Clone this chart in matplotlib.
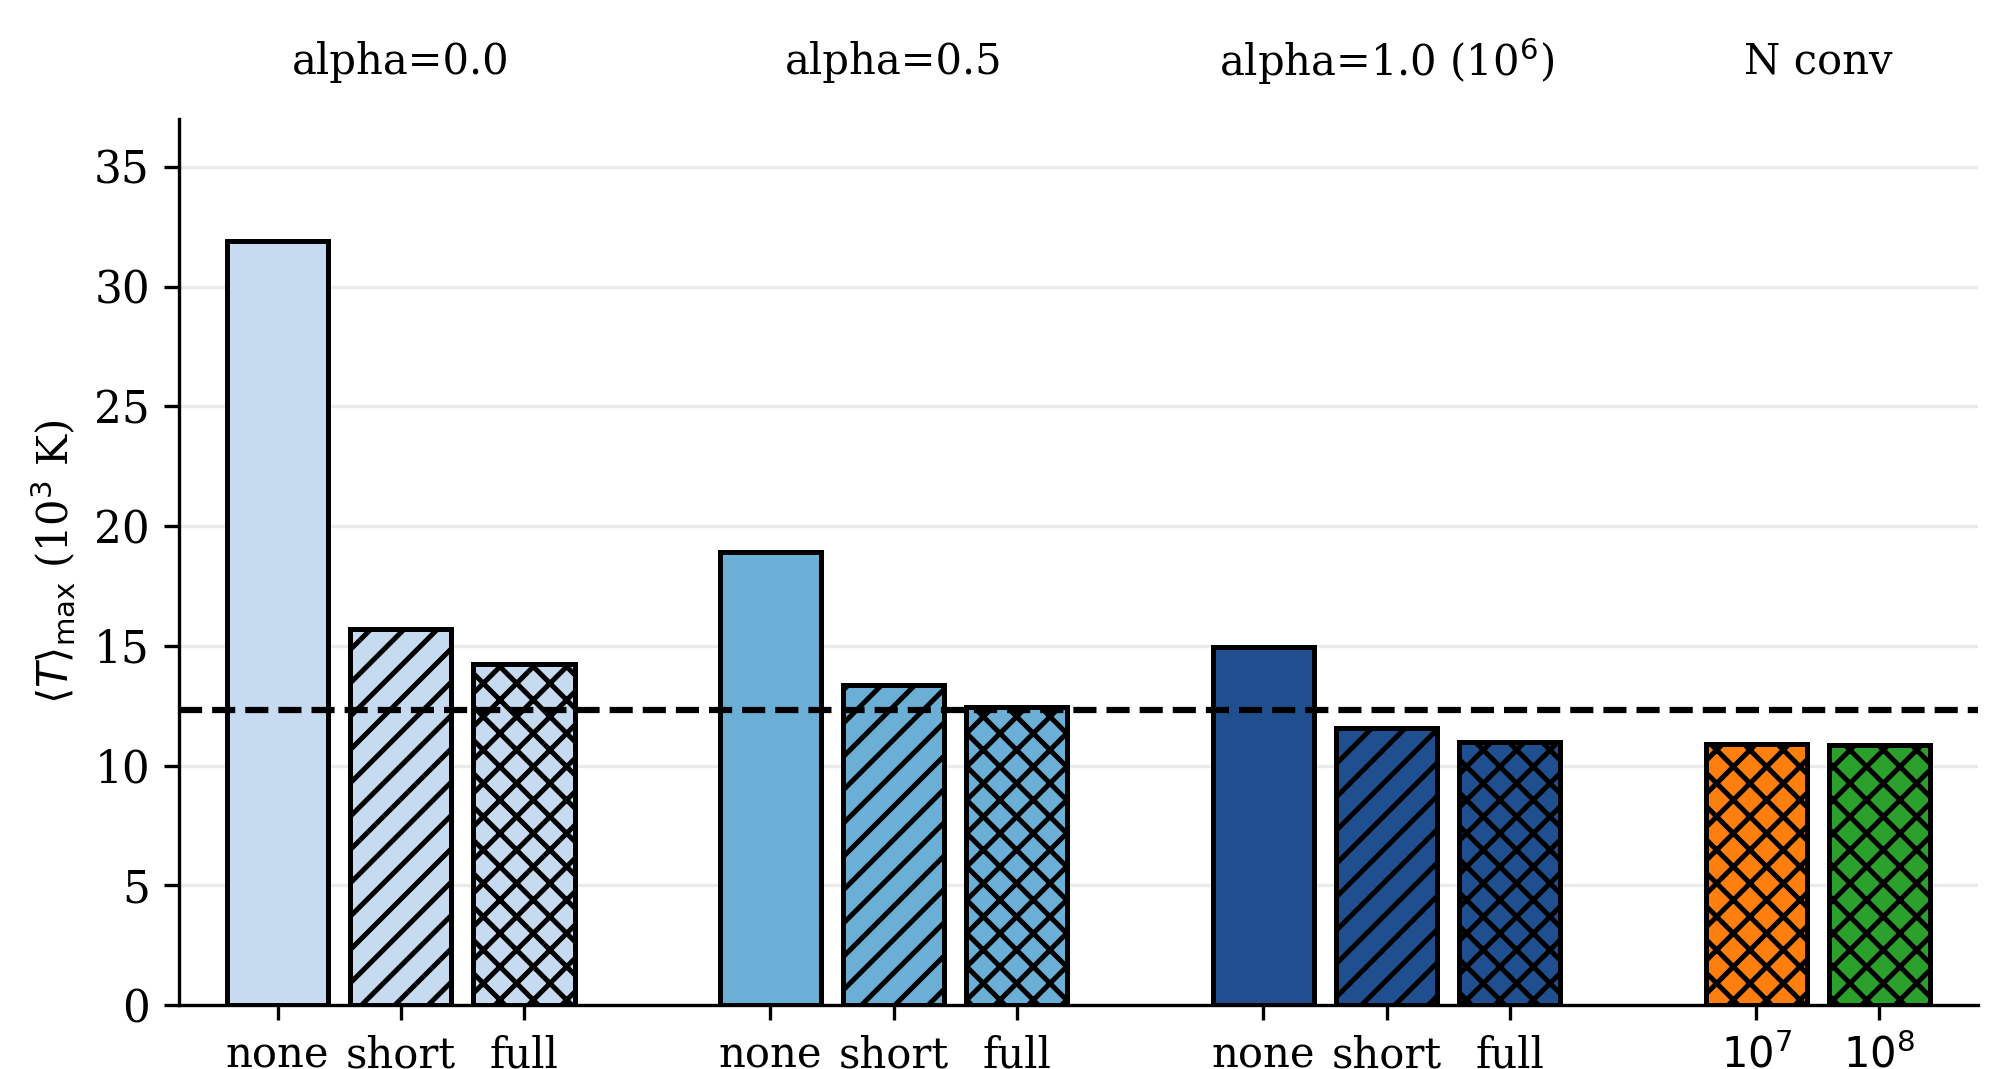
import matplotlib
matplotlib.use("Agg")
import matplotlib.pyplot as plt

plt.rcParams['font.family'] = ['DejaVu Serif']
plt.rcParams['mathtext.fontset'] = 'dejavusans'
plt.rcParams['hatch.linewidth'] = 1.2

# Data
groups = ["alpha=0.0", "alpha=0.5", "alpha=1.0 (10$^6$)", "N conv"]
tick_labels = ["none", "short", "full", "none", "short", "full",
               "none", "short", "full", "$10^7$", "$10^8$"]
positions = [0, 1, 2, 4, 5, 6, 8, 9, 10, 12, 13]
values = [31.9, 15.7, 14.25, 18.9, 13.35, 12.43, 14.95, 11.55, 11.0, 10.9, 10.85]
colors = ["#c6dbef", "#c6dbef", "#c6dbef",
          "#6baed6", "#6baed6", "#6baed6",
          "#1f4f8f", "#1f4f8f", "#1f4f8f",
          "#ff7f0e", "#2ca02c"]
hatches = ["", "///", "xxx", "", "///", "xxx", "", "///", "xxx", "xxx", "xxx"]
group_centers = [1, 5, 9, 12.5]
reference_value = 12.3

fig = plt.figure(figsize=(2008/300, 1069/300), dpi=300)
ax = fig.add_axes([179/2008, 1 - 1005/1069, (1978-179)/2008, (1005-119)/1069])

for x, v, c, h in zip(positions, values, colors, hatches):
    ax.bar(x, v, width=0.82, color=c, edgecolor='black', linewidth=1.2,
           hatch=h, zorder=3)

ax.axhline(reference_value, color='black', linestyle='--', linewidth=1.5, zorder=4)

ax.set_xlim(-0.8, 13.8)
ax.set_ylim(0, 37)
ax.set_yticks([0, 5, 10, 15, 20, 25, 30, 35])
ax.set_xticks(positions)
ax.set_xticklabels(tick_labels, fontsize=10)
ax.tick_params(axis='y', labelsize=10.5, width=0.8, length=3.5)
ax.tick_params(axis='x', width=0.8, length=3.5)
ax.yaxis.grid(True, color='#ebebeb', linewidth=0.8, zorder=0)
ax.set_axisbelow(True)
for s in ['top', 'right']:
    ax.spines[s].set_visible(False)
for s in ['left', 'bottom']:
    ax.spines[s].set_linewidth(0.8)

ax.set_ylabel(r"$\langle T\rangle_{\rm max}$ (10$^3$ K)", fontsize=10)

for gx, g in zip(group_centers, groups):
    ax.text(gx, 39.4, g, ha='center', va='center', fontsize=10, clip_on=False)

fig.savefig("out.png", dpi=300)
